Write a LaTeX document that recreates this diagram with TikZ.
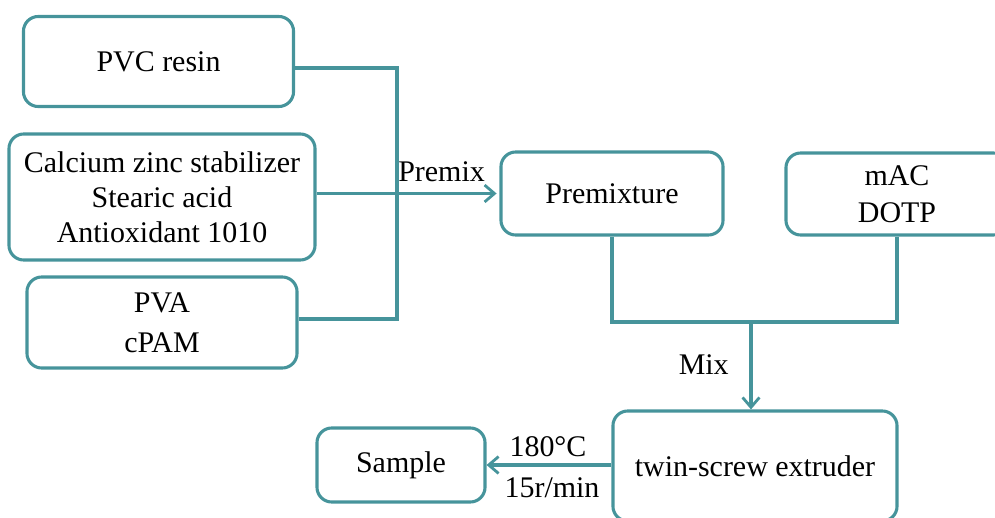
\documentclass[tikz,border=0pt]{standalone}
\usepackage{fontspec}
\setmainfont{Liberation Serif}
\usetikzlibrary{arrows.meta}
\definecolor{tealline}{RGB}{70,148,155}
\tikzset{
  procbox/.style={rectangle,rounded corners=10.5pt,draw=tealline,line width=2.2pt,align=center,
    font=\fontsize{21.3}{25}\selectfont,inner sep=0pt},
  flowline/.style={draw=tealline,line width=2.2pt},
  flowarr/.style={flowline,-{Straight Barb[length=7pt,width=12pt,line width=2pt]}},
  steplabel/.style={font=\fontsize{21.3}{25}\selectfont,inner sep=0pt}
}
\begin{document}
\begin{tikzpicture}[x=0.025cm,y=-0.025cm]
  \useasboundingbox (0,0) rectangle (995,518);
  \node[procbox,minimum width=6.75cm,minimum height=2.25cm] (pvc) at (158.5,61.5) {PVC resin};
  \node[procbox,minimum width=7.65cm,minimum height=3.15cm] (calc) at (162,197)
    {Calcium zinc stabilizer\\Stearic acid\\Antioxidant 1010};
  \node[procbox,minimum width=6.75cm,minimum height=2.275cm] (pva) at (162,322.5) {PVA\\[3.5pt]cPAM};
  \node[procbox,minimum width=5.55cm,minimum height=2.075cm] (premix) at (612,193.5) {Premixture};
  \node[procbox,minimum width=5.55cm,minimum height=2.05cm,font=\fontsize{21.3}{26.3}\selectfont] (mac) at (897,194) {mAC\\DOTP};
  \node[procbox,minimum width=7.1cm,minimum height=2.75cm] (ext) at (755,466) {twin-screw extruder};
  \node[procbox,minimum width=4.2cm,minimum height=1.85cm] (sample) at (401,465) {Sample};
  \coordinate (jtop) at (397,68);
  \coordinate (jbot) at (397,319);
  \coordinate (mixj) at (751,322);
  \draw[flowline] (pvc.east |- jtop) -- (jtop) -- (jbot) -- (pva.east |- jbot);
  \draw[flowarr,shorten >=2pt] (calc.east |- premix.west) -- (premix.west);
  \draw[flowline] (premix.south) |- (mixj) -| (mac.south);
  \draw[flowarr] (mixj) -- (mixj |- ext.north);
  \draw[flowarr] (ext.west |- sample.east) -- (sample.east);
  \node[steplabel,anchor=base west] (lpremix) at (398,182) {Premix};
  \node[steplabel,anchor=base east] (lmix) at (729,374) {Mix};
  \node[steplabel,anchor=base] (ltemp) at (548,456) {180°C};
  \node[steplabel,anchor=base] (lspeed) at (552,497) {15r/min};
\end{tikzpicture}
\end{document}
